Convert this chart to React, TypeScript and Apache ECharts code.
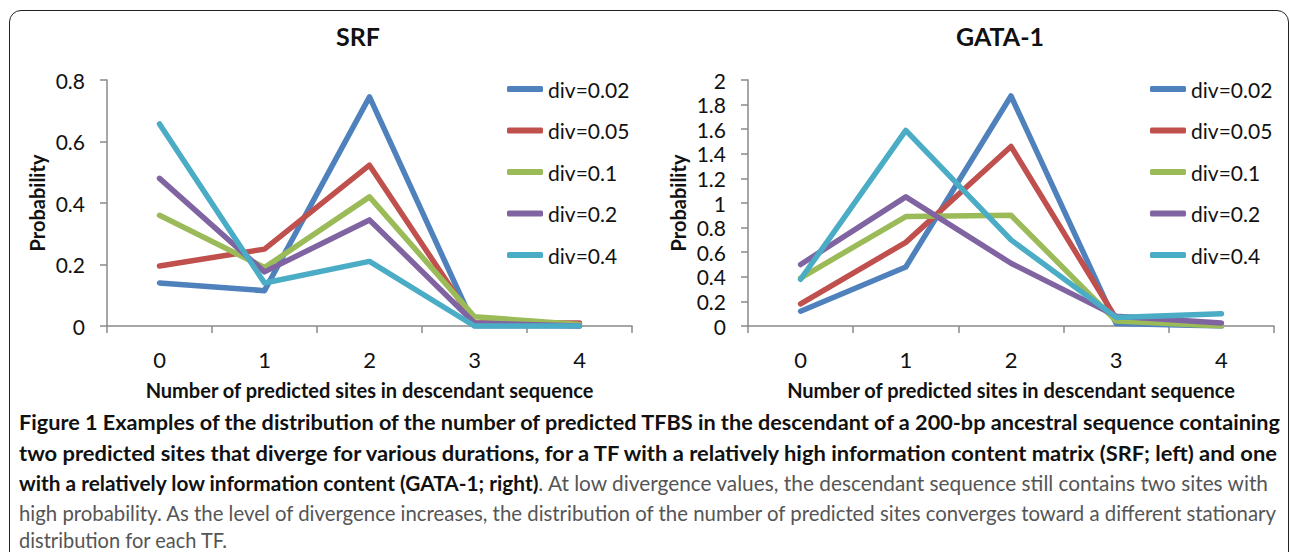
import React, { useEffect, useRef } from "react";
import * as echarts from "echarts";

const categories = ["0", "1", "2", "3", "4"];
const seriesNames = ["div=0.02", "div=0.05", "div=0.1", "div=0.2", "div=0.4"];
const colors = ["#4F81BD", "#C0504D", "#9BBB59", "#8064A2", "#4BACC6"];

const srfDiv002 = [0.14, 0.115, 0.745, 0.0, 0.0];
const srfDiv005 = [0.195, 0.25, 0.523, 0.01, 0.01];
const srfDiv01 = [0.36, 0.19, 0.42, 0.03, 0.005];
const srfDiv02 = [0.48, 0.176, 0.345, 0.01, 0.0];
const srfDiv04 = [0.657, 0.14, 0.21, 0.0, 0.0];

const gataDiv002 = [0.12, 0.48, 1.87, 0.02, 0.0];
const gataDiv005 = [0.18, 0.68, 1.46, 0.06, 0.01];
const gataDiv01 = [0.39, 0.89, 0.9, 0.04, 0.0];
const gataDiv02 = [0.5, 1.05, 0.51, 0.08, 0.025];
const gataDiv04 = [0.38, 1.59, 0.7, 0.07, 0.1];

const srfSeries = [srfDiv002, srfDiv005, srfDiv01, srfDiv02, srfDiv04];
const gataSeries = [gataDiv002, gataDiv005, gataDiv01, gataDiv02, gataDiv04];

const captionBold1 = "Figure 1 Examples of the distribution of the number of predicted TFBS in the descendant of a 200-bp ancestral sequence containing";
const captionBold2 = "two predicted sites that diverge for various durations, for a TF with a relatively high information content matrix (SRF; left) and one";
const captionBold3 = "with a relatively low information content (GATA-1; right)";
const captionReg3 = ". At low divergence values, the descendant sequence still contains two sites with";
const captionReg4 = "high probability. As the level of divergence increases, the distribution of the number of predicted sites converges toward a different stationary";
const captionReg5 = "distribution for each TF.";

const chartFont = "Lato, sans-serif";
const axisGray = "#8a8a8a";
const CHART_H = 440;

function makeX(gridIndex: number) {
  return {
    type: "category",
    gridIndex,
    data: categories,
    boundaryGap: true,
    axisLine: { lineStyle: { color: axisGray, width: 1.5 } },
    axisTick: { show: true, length: 7, lineStyle: { color: axisGray, width: 1.5 } },
    axisLabel: { color: "#111", fontSize: 22, fontFamily: chartFont, margin: 22 },
    name: "Number of predicted sites in descendant sequence",
    nameLocation: "middle",
    nameGap: 54,
    nameTextStyle: { color: "#111", fontSize: 20, fontWeight: "bold", fontFamily: chartFont },
  };
}

function makeY(gridIndex: number, max: number, interval: number) {
  return {
    type: "value",
    gridIndex,
    min: 0,
    max,
    interval,
    axisLine: { show: true, lineStyle: { color: axisGray, width: 1.5 } },
    axisTick: { show: true, length: 7, lineStyle: { color: axisGray, width: 1.5 } },
    splitLine: { show: false },
    axisLabel: { color: "#111", fontSize: 21, fontFamily: chartFont, margin: 22 },
    name: "Probability",
    nameLocation: "middle",
    nameGap: 60,
    nameTextStyle: { color: "#111", fontSize: 20, fontWeight: "bold", fontFamily: chartFont },
  };
}

function makeLegend(left: number) {
  return {
    orient: "vertical",
    left,
    top: 73,
    itemWidth: 36,
    itemHeight: 6,
    itemGap: 19.5,
    icon: "roundRect",
    data: seriesNames,
    textStyle: { color: "#111", fontSize: 21, fontFamily: chartFont, lineHeight: 22 },
  };
}

export default function App() {
  const ref = useRef<HTMLDivElement>(null);
  const lineRefs = useRef<(HTMLDivElement | null)[]>([]);
  const targets = [1261, 1258, 1249, 1257, 208];

  useEffect(() => {
    // fit caption lines to the reference widths
    const lines = lineRefs.current;
    if (lines[0]) {
      const w0 = lines[0].getBoundingClientRect().width;
      const fs = (19 * targets[0]) / w0;
      lines.forEach((l) => {
        if (l) l.style.fontSize = fs + "px";
      });
      lines.forEach((l, i) => {
        if (!l) return;
        const w = l.getBoundingClientRect().width;
        l.style.transform = `scaleX(${targets[i] / w})`;
      });
    }

    if (!ref.current) return;
    const chart = echarts.init(ref.current, null, { renderer: "svg" });
    const series: any[] = [];
    const add = (arr: number[][], axis: number) => {
      arr.forEach((d, i) => {
        series.push({
          type: "line",
          name: seriesNames[i],
          xAxisIndex: axis,
          yAxisIndex: axis,
          data: d,
          showSymbol: false,
          symbol: "none",
          lineStyle: { color: colors[i], width: 5.5, join: "round", cap: "round" },
          itemStyle: { color: colors[i] },
        });
      });
    };
    add(srfSeries, 0);
    add(gataSeries, 1);
    chart.setOption({
      animation: false,
      title: [
        {
          text: "SRF",
          left: 353,
          top: 18,
          textAlign: "center",
          textStyle: { color: "#111", fontSize: 25, fontWeight: "bold", fontFamily: chartFont },
        },
        {
          text: "GATA-1",
          left: 995,
          top: 18,
          textAlign: "center",
          textStyle: { color: "#111", fontSize: 25, fontWeight: "bold", fontFamily: chartFont },
        },
      ],
      legend: [makeLegend(502), makeLegend(1145)],
      grid: [
        { left: 107, right: 658, top: 80, bottom: CHART_H - 326, outerBoundsMode: "none" },
        { left: 748, right: 16, top: 80, bottom: CHART_H - 326, outerBoundsMode: "none" },
      ],
      xAxis: [makeX(0), makeX(1)],
      yAxis: [makeY(0, 0.8, 0.2), makeY(1, 2, 0.2)],
      series,
    });
    return () => chart.dispose();
  }, []);

  const lineStyle: React.CSSProperties = {
    position: "absolute",
    left: 19,
    whiteSpace: "nowrap",
    fontFamily: "Lato, sans-serif",
    fontSize: 19,
    lineHeight: "22px",
    transformOrigin: "0 50%",
  };
  const bold: React.CSSProperties = { fontWeight: "bold", color: "#111" };
  const reg: React.CSSProperties = { fontWeight: "normal", color: "#555" };
  const setRef = (i: number) => (el: HTMLDivElement | null) => {
    lineRefs.current[i] = el;
  };

  return (
    <div style={{ position: "fixed", left: 0, top: 0, width: 1290, height: 552, overflow: "hidden", background: "#fff" }}>
      <div
        style={{
          position: "absolute",
          left: 9,
          top: 10,
          width: 1280,
          height: 620,
          border: "1.5px solid #222",
          borderRadius: 12,
          boxSizing: "border-box",
        }}
      />
      <div ref={ref} style={{ position: "absolute", left: 0, top: 0, width: 1290, height: CHART_H }} />
      <div ref={setRef(0)} style={{ ...lineStyle, top: 411 }}>
        <span style={bold}>{captionBold1}</span>
      </div>
      <div ref={setRef(1)} style={{ ...lineStyle, top: 442 }}>
        <span style={bold}>{captionBold2}</span>
      </div>
      <div ref={setRef(2)} style={{ ...lineStyle, top: 472 }}>
        <span style={bold}>{captionBold3}</span>
        <span style={reg}>{captionReg3}</span>
      </div>
      <div ref={setRef(3)} style={{ ...lineStyle, top: 502 }}>
        <span style={reg}>{captionReg4}</span>
      </div>
      <div ref={setRef(4)} style={{ ...lineStyle, top: 529 }}>
        <span style={reg}>{captionReg5}</span>
      </div>
    </div>
  );
}
